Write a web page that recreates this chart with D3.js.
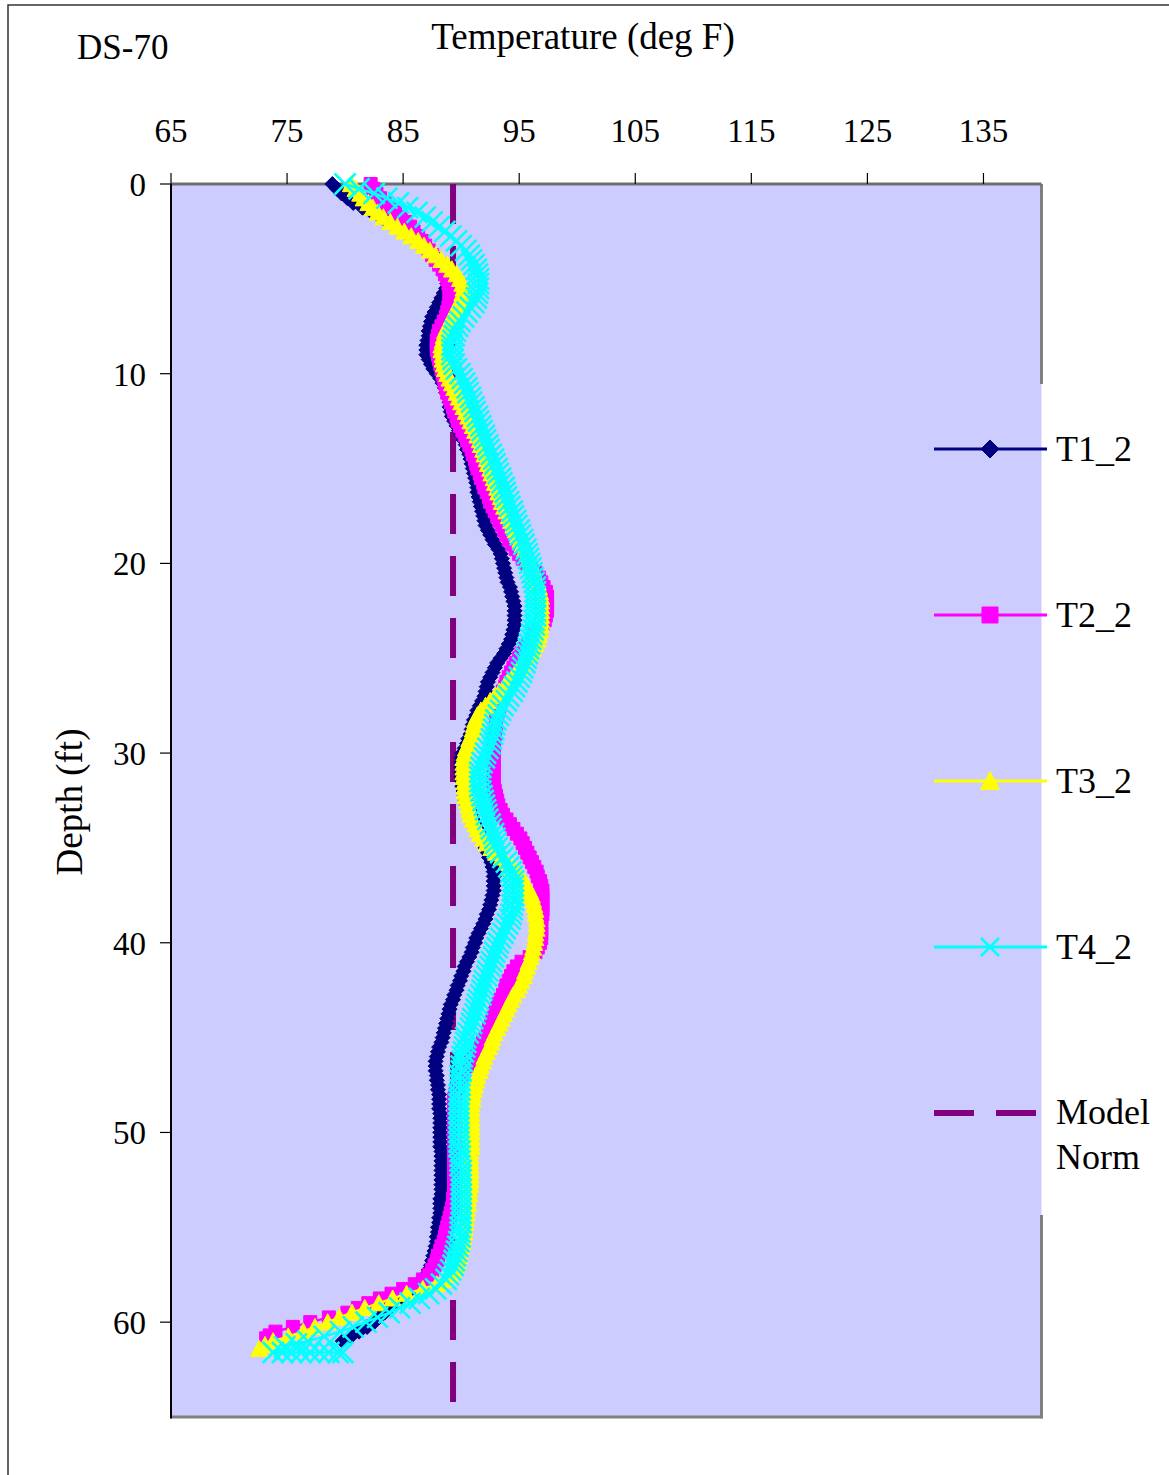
<!DOCTYPE html>
<html>
<head>
<meta charset="utf-8">
<script src="https://cdn.jsdelivr.net/npm/d3@7"></script>
<style>
  body { margin: 0; background: #fff; }
  svg { display: block; }
  text { font-family: "Liberation Serif", "Times New Roman", serif; fill: #000; }
</style>
</head>
<body>
<div id="chart"></div>
<script>
// depth grid (ft) shared by the four series, 0 .. 57.75
var depthFt = [
  0, 0.25, 0.5, 0.75, 1, 1.25, 1.5, 1.75, 2, 2.25, 2.5, 2.75, 3, 3.25, 3.5, 3.75, 4, 4.25, 4.5, 4.75,
  5, 5.25, 5.5, 5.75, 6, 6.25, 6.5, 6.75, 7, 7.25, 7.5, 7.75, 8, 8.25, 8.5, 8.75, 9, 9.25, 9.5, 9.75,
  10, 10.25, 10.5, 10.75, 11, 11.25, 11.5, 11.75, 12, 12.25, 12.5, 12.75, 13, 13.25, 13.5, 13.75, 14, 14.25, 14.5, 14.75,
  15, 15.25, 15.5, 15.75, 16, 16.25, 16.5, 16.75, 17, 17.25, 17.5, 17.75, 18, 18.25, 18.5, 18.75, 19, 19.25, 19.5, 19.75,
  20, 20.25, 20.5, 20.75, 21, 21.25, 21.5, 21.75, 22, 22.25, 22.5, 22.75, 23, 23.25, 23.5, 23.75, 24, 24.25, 24.5, 24.75,
  25, 25.25, 25.5, 25.75, 26, 26.25, 26.5, 26.75, 27, 27.25, 27.5, 27.75, 28, 28.25, 28.5, 28.75, 29, 29.25, 29.5, 29.75,
  30, 30.25, 30.5, 30.75, 31, 31.25, 31.5, 31.75, 32, 32.25, 32.5, 32.75, 33, 33.25, 33.5, 33.75, 34, 34.25, 34.5, 34.75,
  35, 35.25, 35.5, 35.75, 36, 36.25, 36.5, 36.75, 37, 37.25, 37.5, 37.75, 38, 38.25, 38.5, 38.75, 39, 39.25, 39.5, 39.75,
  40, 40.25, 40.5, 40.75, 41, 41.25, 41.5, 41.75, 42, 42.25, 42.5, 42.75, 43, 43.25, 43.5, 43.75, 44, 44.25, 44.5, 44.75,
  45, 45.25, 45.5, 45.75, 46, 46.25, 46.5, 46.75, 47, 47.25, 47.5, 47.75, 48, 48.25, 48.5, 48.75, 49, 49.25, 49.5, 49.75,
  50, 50.25, 50.5, 50.75, 51, 51.25, 51.5, 51.75, 52, 52.25, 52.5, 52.75, 53, 53.25, 53.5, 53.75, 54, 54.25, 54.5, 54.75,
  55, 55.25, 55.5, 55.75, 56, 56.25, 56.5, 56.75, 57, 57.25, 57.5, 57.75
];

var t1Temp = [
  78.9, 79.3, 79.7, 80.2, 80.7, 81.5, 82.3, 83.0, 83.6, 84.3, 84.9, 85.5, 86.1, 86.7, 87.3, 87.7, 88.1, 88.4, 88.6, 88.8,
  88.9, 88.8, 88.7, 88.5, 88.3, 88.1, 87.9, 87.7, 87.5, 87.4, 87.3, 87.2, 87.2, 87.1, 87.0, 87.0, 87.0, 87.2, 87.4, 87.6,
  87.9, 88.2, 88.4, 88.6, 88.7, 88.9, 89.0, 89.0, 89.1, 89.2, 89.4, 89.6, 89.8, 90.0, 90.2, 90.4, 90.5, 90.7, 90.8, 90.9,
  91.0, 91.1, 91.2, 91.3, 91.4, 91.4, 91.5, 91.6, 91.7, 91.8, 91.9, 92.0, 92.1, 92.3, 92.5, 92.7, 92.9, 93.2, 93.4, 93.5,
  93.6, 93.7, 93.8, 93.9, 94.0, 94.2, 94.3, 94.4, 94.5, 94.6, 94.6, 94.6, 94.6, 94.6, 94.5, 94.4, 94.3, 94.1, 93.9, 93.7,
  93.4, 93.1, 92.9, 92.7, 92.5, 92.3, 92.2, 92.1, 92.0, 91.8, 91.6, 91.4, 91.3, 91.1, 91.0, 90.9, 90.8, 90.6, 90.5, 90.3,
  90.1, 90.0, 90.0, 90.0, 90.0, 90.0, 90.1, 90.1, 90.2, 90.3, 90.4, 90.5, 90.7, 90.8, 91.0, 91.2, 91.4, 91.6, 91.8, 92.0,
  92.1, 92.3, 92.4, 92.6, 92.7, 92.8, 92.8, 92.8, 92.8, 92.8, 92.7, 92.6, 92.5, 92.4, 92.2, 92.1, 91.9, 91.7, 91.5, 91.3,
  91.2, 91.0, 90.9, 90.7, 90.5, 90.3, 90.2, 90.0, 89.9, 89.7, 89.6, 89.4, 89.3, 89.1, 89.0, 88.9, 88.8, 88.7, 88.6, 88.5,
  88.4, 88.3, 88.1, 88.0, 87.9, 87.8, 87.8, 87.8, 87.9, 87.9, 88.0, 88.0, 88.1, 88.1, 88.1, 88.1, 88.2, 88.2, 88.2, 88.2,
  88.2, 88.2, 88.2, 88.2, 88.3, 88.3, 88.3, 88.3, 88.3, 88.3, 88.3, 88.3, 88.3, 88.3, 88.2, 88.2, 88.2, 88.2, 88.1, 88.1,
  88.0, 88.0, 87.9, 87.9, 87.8, 87.7, 87.6, 87.5, 87.4, 87.2, 87.0, 86.7
];
var t1TailDepth = [58, 58.25, 58.5, 58.75, 59, 59.25, 59.5, 59.75, 60, 60.25, 60.5, 60.75, 61];
var t1TailTemp = [86.2, 85.7, 85.2, 84.7, 84.3, 83.8, 83.4, 82.9, 82.5, 81.9, 81.2, 80.5, 79.8];

var t2Temp = [
  82.2, 82.4, 82.7, 83.0, 83.4, 83.8, 84.3, 84.8, 85.2, 85.6, 85.9, 86.3, 86.6, 86.9, 87.2, 87.5, 87.8, 88.1, 88.4, 88.6,
  88.8, 88.9, 89.0, 89.0, 89.0, 89.0, 88.9, 88.8, 88.7, 88.5, 88.3, 88.1, 88.0, 87.9, 87.9, 87.9, 88.0, 88.1, 88.2, 88.3,
  88.4, 88.5, 88.6, 88.7, 88.8, 89.0, 89.1, 89.3, 89.4, 89.6, 89.7, 89.9, 90.1, 90.3, 90.5, 90.7, 90.9, 91.0, 91.2, 91.3,
  91.4, 91.6, 91.7, 91.9, 92.0, 92.2, 92.4, 92.5, 92.7, 92.9, 93.1, 93.3, 93.5, 93.7, 93.9, 94.1, 94.4, 94.7, 95.0, 95.3,
  95.7, 96.0, 96.4, 96.7, 96.9, 97.1, 97.3, 97.4, 97.4, 97.4, 97.4, 97.3, 97.2, 97.0, 96.7, 96.4, 96.1, 95.8, 95.5, 95.2,
  95.0, 94.7, 94.5, 94.3, 94.1, 93.9, 93.8, 93.6, 93.5, 93.4, 93.3, 93.2, 93.1, 93.0, 93.0, 92.9, 92.9, 92.8, 92.8, 92.8,
  92.8, 92.8, 92.8, 92.8, 92.8, 92.8, 92.8, 92.8, 92.9, 93.0, 93.1, 93.2, 93.4, 93.6, 93.9, 94.2, 94.5, 94.8, 95.1, 95.3,
  95.5, 95.7, 95.9, 96.1, 96.3, 96.5, 96.6, 96.8, 96.9, 97.0, 97.0, 97.0, 97.0, 97.0, 97.0, 96.9, 96.9, 96.9, 96.9, 96.9,
  96.8, 96.6, 96.4, 95.9, 95.2, 94.8, 94.5, 94.3, 94.1, 93.9, 93.8, 93.6, 93.4, 93.2, 93.0, 92.9, 92.7, 92.6, 92.4, 92.3,
  92.1, 91.9, 91.7, 91.4, 91.1, 90.8, 90.5, 90.2, 90.0, 89.8, 89.7, 89.6, 89.5, 89.4, 89.4, 89.4, 89.4, 89.4, 89.4, 89.4,
  89.4, 89.4, 89.4, 89.4, 89.4, 89.4, 89.4, 89.4, 89.4, 89.4, 89.4, 89.4, 89.4, 89.4, 89.3, 89.3, 89.2, 89.1, 89.0, 88.9,
  88.8, 88.7, 88.6, 88.5, 88.3, 88.2, 88.0, 87.9, 87.7, 87.5, 87.2, 86.7
];
var t2TailDepth = [58, 58.25, 58.5, 58.75, 59, 59.25, 59.5, 59.75, 60, 60.25, 60.5, 60.7, 60.85];
var t2TailTemp = [86.0, 85.0, 84.0, 83.0, 82.0, 81.1, 80.2, 78.6, 77.0, 75.5, 74.0, 73.5, 73.2];

var t3Temp = [
  80.5, 80.9, 81.3, 81.6, 82.0, 82.4, 82.8, 83.3, 83.9, 84.5, 85.1, 85.7, 86.3, 86.8, 87.3, 87.8, 88.3, 88.8, 89.2, 89.6,
  89.9, 90.1, 90.2, 90.1, 90.0, 89.8, 89.6, 89.4, 89.2, 89.0, 88.8, 88.6, 88.5, 88.4, 88.3, 88.3, 88.4, 88.4, 88.5, 88.6,
  88.8, 89.0, 89.2, 89.4, 89.6, 89.8, 90.0, 90.2, 90.4, 90.6, 90.8, 91.0, 91.2, 91.4, 91.6, 91.7, 91.9, 92.0, 92.2, 92.3,
  92.5, 92.6, 92.8, 92.9, 93.1, 93.2, 93.4, 93.5, 93.7, 93.9, 94.1, 94.3, 94.5, 94.7, 94.9, 95.1, 95.3, 95.5, 95.7, 95.8,
  96.0, 96.2, 96.3, 96.4, 96.6, 96.7, 96.8, 96.9, 96.9, 96.9, 96.9, 96.9, 96.9, 96.9, 96.8, 96.7, 96.6, 96.4, 96.2, 95.9,
  95.6, 95.3, 95.0, 94.7, 94.4, 94.0, 93.7, 93.3, 92.9, 92.5, 92.1, 91.7, 91.4, 91.2, 91.1, 91.0, 90.9, 90.7, 90.6, 90.4,
  90.3, 90.2, 90.2, 90.2, 90.2, 90.2, 90.3, 90.3, 90.3, 90.4, 90.5, 90.6, 90.7, 90.8, 91.0, 91.2, 91.4, 91.6, 91.9, 92.2,
  92.6, 93.0, 93.5, 93.9, 94.4, 94.8, 95.1, 95.4, 95.7, 95.9, 96.1, 96.2, 96.3, 96.4, 96.4, 96.5, 96.5, 96.5, 96.4, 96.4,
  96.3, 96.2, 96.1, 96.0, 95.8, 95.7, 95.5, 95.4, 95.2, 95.0, 94.8, 94.5, 94.3, 94.1, 93.9, 93.7, 93.5, 93.3, 93.1, 92.9,
  92.7, 92.6, 92.4, 92.2, 92.0, 91.9, 91.7, 91.6, 91.4, 91.3, 91.2, 91.1, 91.0, 91.0, 90.9, 90.9, 90.9, 90.9, 90.9, 90.9,
  90.9, 90.9, 90.9, 90.9, 90.8, 90.8, 90.8, 90.8, 90.8, 90.8, 90.8, 90.8, 90.7, 90.7, 90.6, 90.6, 90.5, 90.5, 90.4, 90.4,
  90.3, 90.3, 90.2, 90.1, 90.0, 89.9, 89.8, 89.7, 89.5, 89.3, 89.0, 88.6
];
var t3TailDepth = [58, 58.25, 58.5, 58.75, 59, 59.25, 59.5, 59.75, 60, 60.25, 60.5, 60.75, 61, 61.2, 61.4];
var t3TailTemp = [87.9, 86.7, 85.3, 84.1, 82.9, 81.7, 80.6, 79.5, 78.5, 77.4, 76.4, 75.1, 73.8, 73.1, 72.6];

var t4Temp = [
  80.0, 81.2, 82.5, 83.6, 84.6, 85.4, 86.2, 86.9, 87.5, 88.1, 88.6, 89.1, 89.6, 90.0, 90.4, 90.7, 90.9, 91.1, 91.3, 91.4,
  91.5, 91.5, 91.5, 91.4, 91.3, 91.1, 90.8, 90.5, 90.2, 89.9, 89.7, 89.5, 89.4, 89.3, 89.2, 89.2, 89.2, 89.3, 89.4, 89.6,
  89.9, 90.1, 90.3, 90.5, 90.6, 90.8, 90.9, 91.1, 91.2, 91.4, 91.5, 91.7, 91.8, 92.0, 92.1, 92.3, 92.4, 92.6, 92.8, 92.9,
  93.1, 93.2, 93.4, 93.5, 93.7, 93.8, 93.9, 94.1, 94.2, 94.4, 94.5, 94.7, 94.8, 95.0, 95.1, 95.3, 95.4, 95.6, 95.7, 95.8,
  95.9, 96.0, 96.1, 96.2, 96.3, 96.4, 96.4, 96.4, 96.4, 96.4, 96.4, 96.4, 96.3, 96.3, 96.2, 96.1, 96.0, 95.9, 95.8, 95.7,
  95.6, 95.5, 95.3, 95.2, 95.0, 94.8, 94.6, 94.4, 94.1, 93.9, 93.6, 93.4, 93.2, 93.0, 92.9, 92.8, 92.7, 92.6, 92.5, 92.3,
  92.1, 92.0, 91.8, 91.7, 91.6, 91.6, 91.6, 91.6, 91.7, 91.8, 91.9, 92.0, 92.1, 92.2, 92.3, 92.5, 92.6, 92.8, 92.9, 93.0,
  93.1, 93.4, 93.6, 93.9, 94.1, 94.3, 94.4, 94.5, 94.5, 94.5, 94.5, 94.5, 94.4, 94.4, 94.3, 94.2, 94.0, 93.8, 93.6, 93.4,
  93.2, 93.1, 92.9, 92.8, 92.6, 92.5, 92.3, 92.2, 92.0, 91.9, 91.8, 91.7, 91.5, 91.4, 91.3, 91.2, 91.0, 90.9, 90.8, 90.6,
  90.4, 90.4, 90.3, 90.2, 90.1, 90.1, 90.0, 90.0, 89.9, 89.9, 89.9, 89.9, 89.8, 89.8, 89.8, 89.8, 89.8, 89.8, 89.8, 89.8,
  89.8, 89.8, 89.8, 89.8, 89.9, 89.9, 89.9, 89.9, 90.0, 90.0, 90.0, 90.0, 90.0, 90.0, 90.0, 90.0, 90.0, 90.0, 90.0, 90.0,
  89.9, 89.9, 89.9, 89.8, 89.7, 89.6, 89.5, 89.4, 89.3, 89.1, 88.9, 88.7
];
var t4TailDepth = [58, 58.25, 58.5, 58.75, 59, 59.25, 59.5, 59.75, 60, 60.25, 60.5, 60.75, 61, 61.15, 61.3, 61.6,
  61.6, 61.6, 61.6, 61.6, 61.6, 61.6, 61.6, 61.6];
var t4TailTemp = [88.3, 87.8, 87.2, 86.4, 85.6, 84.7, 83.8, 82.8, 81.8, 80.7, 79.6, 78.2, 76.8, 75.8, 74.8, 73.8,
  74.6, 75.4, 76.2, 77.0, 77.8, 78.6, 79.4, 79.8];

var modelNormTemp = 89.3;
var modelNormDepth = [0, 65];

var seriesNames = ['T1_2', 'T2_2', 'T3_2', 'T4_2'];
var seriesColors = ['#000080', '#FF00FF', '#FFFF00', '#00FFFF'];
var seriesMarkers = ['diamond', 'square', 'triangle', 'x'];

var tempTicks = [65, 75, 85, 95, 105, 115, 125, 135];
var depthTicks = [0, 10, 20, 30, 40, 50, 60];

function mkPoints(temps, tailDepth, tailTemp) {
  var pts = temps.map((t, i) => ({ t: t, d: depthFt[i] }));
  tailTemp.forEach((t, i) => pts.push({ t: t, d: tailDepth[i] }));
  return pts;
}

var allSeries = [
  mkPoints(t1Temp, t1TailDepth, t1TailTemp),
  mkPoints(t2Temp, t2TailDepth, t2TailTemp),
  mkPoints(t3Temp, t3TailDepth, t3TailTemp),
  mkPoints(t4Temp, t4TailDepth, t4TailTemp)
];

function markerPath(kind, s) {
  var h = s / 2;
  if (kind === 'diamond') return 'M0,' + (-h) + 'L' + h + ',0L0,' + h + 'L' + (-h) + ',0Z';
  if (kind === 'square') return 'M' + (-h) + ',' + (-h) + 'H' + h + 'V' + h + 'H' + (-h) + 'Z';
  if (kind === 'triangle') return 'M0,' + (-h) + 'L' + h + ',' + (h * 0.9) + 'L' + (-h) + ',' + (h * 0.9) + 'Z';
  return 'M' + (-h) + ',' + (-h) + 'L' + h + ',' + h + 'M' + h + ',' + (-h) + 'L' + (-h) + ',' + h;
}

function drawMarker(sel, kind, color, s) {
  sel.attr('d', markerPath(kind, s));
  if (kind === 'x') {
    sel.attr('fill', 'none').attr('stroke', color).attr('stroke-width', 2.5);
  } else {
    sel.attr('fill', color).attr('stroke', color).attr('stroke-width', 1);
  }
}

function main() {
  var W = 1169, H = 1475;
  var svg = d3.select('#chart').append('svg').attr('width', W).attr('height', H);

  var plot = { left: 171, right: 1041.5, top: 184, bottom: 1417 };

  var x = d3.scaleLinear().domain([65, 140]).range([plot.left, plot.right]);
  var y = d3.scaleLinear().domain([0, 65]).range([plot.top, plot.bottom]);

  // outer chart frame
  svg.append('rect')
    .attr('x', 8).attr('y', 5).attr('width', 1300).attr('height', 1600)
    .attr('fill', '#fff').attr('stroke', '#333').attr('stroke-width', 1.5);

  // plot area
  svg.append('rect')
    .attr('x', plot.left).attr('y', plot.top)
    .attr('width', plot.right - plot.left).attr('height', plot.bottom - plot.top)
    .attr('fill', '#CCCCFF');

  // plot border (right side hidden behind legend box)
  var border = [
    [[plot.left, plot.bottom], [plot.right, plot.bottom]],
    [[plot.right, plot.top], [plot.right, 384]],
    [[plot.right, 1215], [plot.right, plot.bottom + 1.5]]
  ];
  svg.selectAll('.border').data(border).join('line')
    .attr('class', 'border')
    .attr('x1', d => d[0][0]).attr('y1', d => d[0][1])
    .attr('x2', d => d[1][0]).attr('y2', d => d[1][1])
    .attr('stroke', '#808080').attr('stroke-width', 3);

  // top temperature axis
  var xAxis = svg.append('g').attr('transform', 'translate(0,' + plot.top + ')');
  xAxis.append('line')
    .attr('x1', plot.left).attr('x2', plot.right).attr('y1', 0).attr('y2', 0)
    .attr('stroke', '#6e6e6e').attr('stroke-width', 3);
  xAxis.selectAll('.tick').data(tempTicks).join('line')
    .attr('class', 'tick')
    .attr('x1', d => x(d)).attr('x2', d => x(d)).attr('y1', 0).attr('y2', -11)
    .attr('stroke', '#000').attr('stroke-width', 1.2);
  svg.selectAll('.xlab').data(tempTicks).join('text')
    .attr('class', 'xlab')
    .attr('x', d => x(d)).attr('y', 142)
    .attr('text-anchor', 'middle').attr('font-size', 33)
    .text(d => d);

  // left depth axis
  svg.append('line')
    .attr('x1', plot.left).attr('x2', plot.left).attr('y1', plot.top).attr('y2', plot.bottom + 1.5)
    .attr('stroke', '#000').attr('stroke-width', 2);
  svg.selectAll('.ytick').data(depthTicks).join('line')
    .attr('class', 'ytick')
    .attr('x1', plot.left - 11).attr('x2', plot.left).attr('y1', d => y(d)).attr('y2', d => y(d))
    .attr('stroke', '#000').attr('stroke-width', 1.2);
  svg.selectAll('.ylab').data(depthTicks).join('text')
    .attr('class', 'ylab')
    .attr('x', 146).attr('y', d => y(d) + 12)
    .attr('text-anchor', 'end').attr('font-size', 33)
    .text(d => d);

  // titles
  svg.append('text').attr('x', 583).attr('y', 49)
    .attr('text-anchor', 'middle').attr('font-size', 37)
    .text('Temperature (deg F)');
  svg.append('text').attr('x', 77).attr('y', 59)
    .attr('font-size', 35)
    .text('DS-70');
  svg.append('text')
    .attr('transform', 'translate(82,802) rotate(-90)')
    .attr('text-anchor', 'middle').attr('font-size', 37)
    .text('Depth (ft)');

  // model norm dashed line, under the series
  svg.append('line')
    .attr('x1', x(modelNormTemp)).attr('x2', x(modelNormTemp))
    .attr('y1', y(modelNormDepth[0])).attr('y2', y(modelNormDepth[1]))
    .attr('stroke', '#800080').attr('stroke-width', 6)
    .attr('stroke-dasharray', '40,22');

  // series
  var line = d3.line().x(d => x(d.t)).y(d => y(d.d));
  var markerSize = [15, 13, 17, 21];

  allSeries.forEach((pts, k) => {
    var g = svg.append('g').attr('class', 'series' + k);
    g.append('path')
      .datum(pts)
      .attr('d', line)
      .attr('fill', 'none')
      .attr('stroke', seriesColors[k])
      .attr('stroke-width', 2.5);
    g.selectAll('path.mk').data(pts).join('path')
      .attr('class', 'mk')
      .attr('transform', d => 'translate(' + x(d.t) + ',' + y(d.d) + ')')
      .call(sel => drawMarker(sel, seriesMarkers[k], seriesColors[k], markerSize[k]));
  });

  // legend
  var legendY = [449, 615, 781, 947];
  var legendMarkerSize = [18, 16, 19, 18];
  var lg = svg.append('g');
  seriesNames.forEach((name, k) => {
    lg.append('line')
      .attr('x1', 934).attr('x2', 1047).attr('y1', legendY[k]).attr('y2', legendY[k])
      .attr('stroke', seriesColors[k]).attr('stroke-width', 3);
    lg.append('path')
      .attr('transform', 'translate(990,' + legendY[k] + ')')
      .call(sel => drawMarker(sel, seriesMarkers[k], seriesColors[k], legendMarkerSize[k]));
    lg.append('text')
      .attr('x', 1056).attr('y', legendY[k] + 12)
      .attr('font-size', 36)
      .text(name);
  });
  lg.append('line')
    .attr('x1', 934).attr('x2', 1047).attr('y1', 1113).attr('y2', 1113)
    .attr('stroke', '#800080').attr('stroke-width', 6)
    .attr('stroke-dasharray', '40,22');
  lg.append('text').attr('x', 1056).attr('y', 1124).attr('font-size', 36).text('Model');
  lg.append('text').attr('x', 1056).attr('y', 1169).attr('font-size', 36).text('Norm');
}

main();
</script>
</body>
</html>
